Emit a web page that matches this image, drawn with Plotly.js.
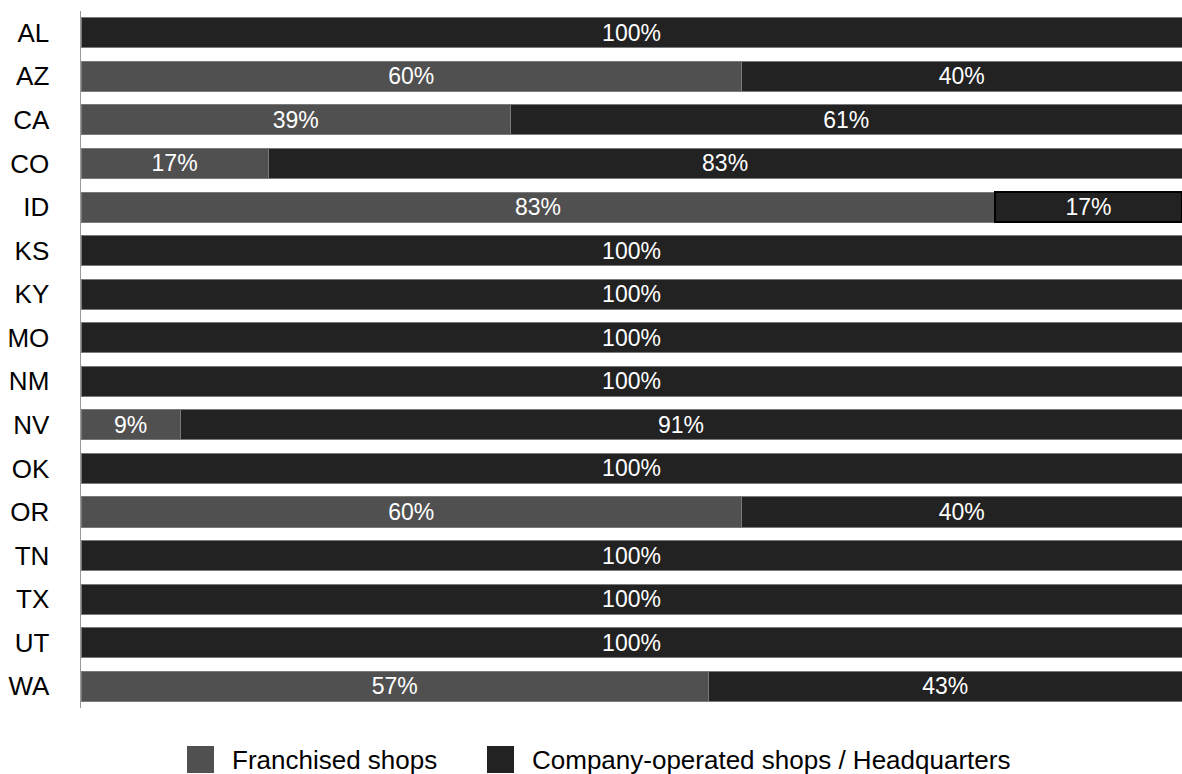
<!DOCTYPE html>
<html>
<head>
<meta charset="utf-8">
<script src="https://cdn.plot.ly/plotly-3.0.1.min.js"></script>
<style>html,body{margin:0;padding:0;background:#fff;overflow:hidden;}#chart{width:1182px;height:774px;}</style>
</head>
<body>
<div id="chart"></div>
<script>
const states = ["AL","AZ","CA","CO","ID","KS","KY","MO","NM","NV","OK","OR","TN","TX","UT","WA"];
const franchised = [0,60,39,17,83,0,0,0,0,9,0,60,0,0,0,57];
const company = [100,40,61,83,17,100,100,100,100,91,100,40,100,100,100,43];
const seriesNames = ["Franchised shops", "Company-operated shops / Headquarters"];
const seriesColors = ["#505050", "#222222"];

const FONT = "Liberation Sans, Arial, Helvetica, sans-serif";
const fVals = franchised.map(v => v === 0 ? null : v);
const fText = franchised.map(v => v === 0 ? "" : v + "%");
const cText = company.map(v => v === 0 ? "" : v + "%");
const cLine = states.map(s => s === "ID" ? "#000000" : "#7a7a7a");
const cLineW = states.map(s => s === "ID" ? 1.5 : 1);

const common = {
  type: "bar", orientation: "h", y: states,
  textposition: "inside", insidetextanchor: "middle",
  textfont: {color: "#ffffff", size: 23, family: FONT},
  hoverinfo: "skip", constraintext: "none", showlegend: false
};
const data = [
  Object.assign({}, common, {
    name: seriesNames[0], x: fVals, text: fText,
    marker: {color: seriesColors[0], line: {color: "#7a7a7a", width: 1}}
  }),
  Object.assign({}, common, {
    name: seriesNames[1], x: company, text: cText,
    marker: {color: seriesColors[1], line: {color: cLine, width: cLineW}}
  })
];

// custom legend (large swatches) in pixel positions converted to paper coords
const L = 81, W = 1101, T = 11, H = 697;
const px = v => (v - L) / W;
const py = v => (T + H - v) / H;
const swatchX = [187, 487];
const textX = [230, 530];
const shapes = [], annotations = [];
for (let i = 0; i < 2; i++) {
  shapes.push({type: "rect", xref: "paper", yref: "paper",
    x0: px(swatchX[i]), x1: px(swatchX[i] + 27), y0: py(746), y1: py(773),
    fillcolor: seriesColors[i], line: {width: 0}});
  annotations.push({xref: "paper", yref: "paper", x: px(textX[i]), y: py(760),
    xanchor: "left", yanchor: "middle", showarrow: false, text: seriesNames[i],
    font: {family: FONT, size: 26, color: "#000"}});
}

const layout = {
  width: 1182, height: 774,
  margin: {l: 81, r: 0, t: 11, b: 66},
  barmode: "stack", bargap: 0.31,
  paper_bgcolor: "#ffffff", plot_bgcolor: "#ffffff",
  font: {family: FONT, color: "#000"},
  xaxis: {range: [0, 100], showticklabels: false, showgrid: false, zeroline: false, fixedrange: true},
  yaxis: {autorange: "reversed", showline: true, linecolor: "#999999", linewidth: 1.5,
          showgrid: false, ticks: "", ticklabelstandoff: 25,
          tickfont: {size: 26, color: "#000", family: FONT}},
  showlegend: false,
  shapes: shapes, annotations: annotations
};
Plotly.newPlot("chart", data, layout, {displayModeBar: false, staticPlot: true});
</script>
</body>
</html>
